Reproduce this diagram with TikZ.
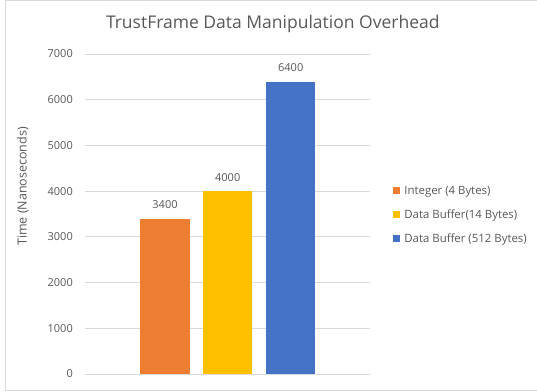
\documentclass[tikz,border=0pt]{standalone}
\usepackage{fontspec}
\setmainfont{Open Sans}
\definecolor{textgray}{HTML}{595959}
\definecolor{gridgray}{HTML}{D9D9D9}
\definecolor{barorange}{HTML}{ED7D31}
\definecolor{baryellow}{HTML}{FFC000}
\definecolor{barblue}{HTML}{4472C4}
\begin{document}
\begin{tikzpicture}[x=1pt,y=-1pt,
  txt/.style={text=textgray, inner sep=0pt, font=\fontsize{11}{13}\selectfont},
  legtxt/.style={text=textgray, inner sep=0pt, font=\fontsize{11.4}{13}\selectfont},
  axtxt/.style={text=textgray, inner sep=0pt, font=\fontsize{12.5}{14}\selectfont},
  titletxt/.style={text=textgray, inner sep=0pt, font=\fontsize{17.5}{20}\selectfont},
  gridline/.style={draw=gridgray, line width=0.8pt},
  legsq/.style={draw=none, minimum width=7pt, minimum height=7pt, inner sep=0pt}]
\useasboundingbox (0,0) rectangle (537,391);
\clip (0,0) rectangle (537,391);
\fill[white] (0,0) rectangle (537,391);
\draw[gridgray, line width=0.8pt] (5.7,0.6) rectangle (545,390);
% title
\node[titletxt, anchor=base] (title) at (272.8,28.3) {TrustFrame Data Manipulation Overhead};
% axis label
\node[axtxt, anchor=base, rotate=90] (ylab) at (26.5,186.5) {Time (Nanoseconds)};
% grid and ticks
\foreach \v [count=\i from 0] in {0,1000,2000,3000,4000,5000,6000,7000} {
  \pgfmathsetmacro{\yy}{374-\i*45.71}
  \draw[gridline] (85,\yy) -- (370,\yy);
  \node[txt, anchor=east] (tick\i) at (73,\yy) {\v};
}
% bars
\fill[barorange] (140,374) rectangle (189.7,218.6);
\fill[baryellow] (203,374) rectangle (252.3,191.2);
\fill[barblue] (266,374) rectangle (315.3,81.5);
% data labels
\node[txt] (lab1) at (165,204.5) {3400};
\node[txt] (lab2) at (227.7,177.3) {4000};
\node[txt] (lab3) at (290.7,67.7) {6400};
% legend
\node[legsq, fill=barorange] (sq1) at (396.8,190.3) {};
\node[legsq, fill=baryellow] (sq2) at (396.8,214.3) {};
\node[legsq, fill=barblue] (sq3) at (396.8,238.5) {};
\node[legtxt, anchor=base west] (leg1) at (404.2,194.4) {Integer (4 Bytes)};
\node[legtxt, anchor=base west] (leg2) at (404.2,218.4) {Data Buffer(14 Bytes)};
\node[legtxt, anchor=base west] (leg3) at (404.2,242.6) {Data Buffer (512 Bytes)};
\end{tikzpicture}
\end{document}
